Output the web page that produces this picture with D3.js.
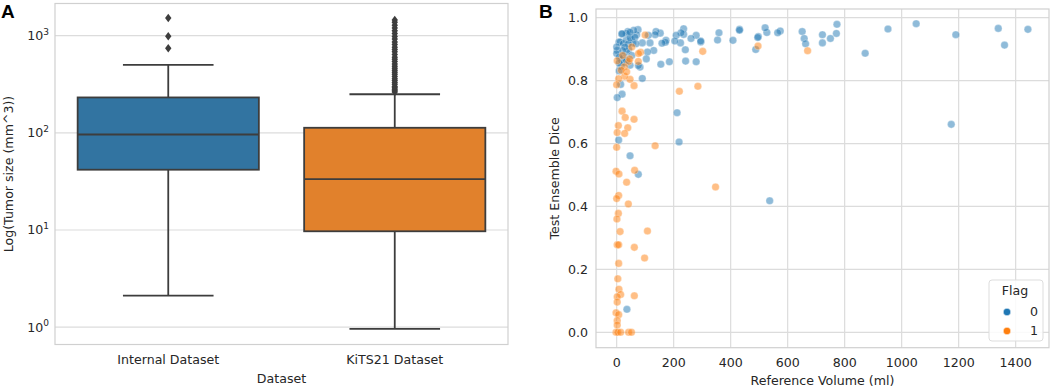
<!DOCTYPE html>
<html>
<head>
<meta charset="utf-8">
<script src="https://cdn.jsdelivr.net/npm/d3@7"></script>
<style>
  html, body { margin: 0; padding: 0; background: #fff; }
  svg { display: block; font-family: "DejaVu Sans", sans-serif; }
</style>
</head>
<body>
<svg id="chart" width="1053" height="391"></svg>
<script>
// ---------------- Panel A data ----------------
const boxCategories = ["Internal Dataset", "KiTS21 Dataset"];
const boxColors = ["#3274a1", "#e1812c"];
const boxLowerWhisker = [2.11, 0.96];
const boxQ1 = [41.7, 9.7];
const boxMedian = [96, 33.3];
const boxQ3 = [231, 112.6];
const boxUpperWhisker = [500, 249];
const internalOutliers = [740, 983, 1514];
const kitsOutliers = [262, 270, 280, 290, 300, 315, 330, 345, 360, 380, 400, 420, 440, 460, 485, 510, 540, 570, 600, 640, 680, 720, 760, 810, 860, 920, 980, 1050, 1120, 1200, 1280, 1370, 1450];
const logTicks = [1, 10, 100, 1000];

// ---------------- Panel B data ----------------
const flag0Volume = [1443,1361,1339,1190,1174,1051,952,872,773,771,750,722,722,651,658,663,574,565,527,521,537,497,495,488,431,431,408,359,354,295,295,279,279,261,241,242,235,235,226,224,209,204,212,219,185,173,171,155,159,153,138,135,130,117,111,108,104,90,90,82,76,75,70,60,52,56,76,47,36,39,34,18,42,35,26,16,15,9,8,2,0,14,19,2,7,12,23,33,41,47,64,68,29,9,21,53,19,47,27,47,9,0,35];
const flag0Dice = [0.963,0.913,0.966,0.946,0.661,0.981,0.964,0.887,0.979,0.950,0.934,0.946,0.920,0.956,0.934,0.917,0.958,0.952,0.953,0.968,0.418,0.940,0.937,0.899,0.963,0.960,0.928,0.952,0.929,0.923,0.926,0.944,0.860,0.934,0.898,0.862,0.965,0.947,0.952,0.920,0.944,0.926,0.698,0.605,0.860,0.928,0.922,0.852,0.919,0.951,0.956,0.946,0.896,0.920,0.944,0.891,0.869,0.807,0.920,0.843,0.848,0.962,0.946,0.960,0.932,0.920,0.502,0.561,0.073,0.956,0.950,0.948,0.899,0.893,0.877,0.867,0.846,0.831,0.923,0.896,0.886,0.788,0.757,0.746,0.611,0.923,0.917,0.928,0.917,0.936,0.938,0.917,0.907,0.875,0.896,0.880,0.949,0.954,0.858,0.849,0.856,0.907,0.864];
const flag1Volume = [670,496,347,302,285,220,135,108,98,100,84,76,61,61,63,62,62,47,42,46,28,7,0,2,19,30,6,39,2,28,0,-2,8,35,7,0,41,6,1,12,2,7,7,4,8,14,2,2,-2,7,2,2,-2,4,14,42,52,21,27,35,53,16,77];
const flag1Dice = [0.895,0.910,0.462,0.893,0.782,0.766,0.593,0.322,0.236,0.945,0.890,0.861,0.784,0.677,0.515,0.270,0.116,0.804,0.861,0.869,0.814,0.806,0.787,0.863,0.703,0.683,0.657,0.650,0.635,0.632,0.588,0.512,0.503,0.477,0.435,0.425,0.408,0.378,0.360,0.320,0.278,0.278,0.219,0.170,0.137,0.120,0.113,0.096,0.062,0.056,0.037,0.023,0,0,0,0,0,0.880,0.844,0.828,0.907,0.833,0.886];
const xTicksB = [0, 200, 400, 600, 800, 1000, 1200, 1400];
const yTicksB = [0.0, 0.2, 0.4, 0.6, 0.8, 1.0];
const flagLabels = ["0", "1"];
const flagColors = ["#1f77b4", "#ff7f0e"];

// ---------------- Drawing ----------------
const svg = d3.select("#chart");
const textColor = "#262626";
const gridColor = "#dcdcdc";
const frameColor = "#d0d0d0";
const lineColor = "#3d3d3d";
const fs = 12.6;
const lw = 1.8;

// ===== Panel A =====
const A = { left: 55, right: 508, top: 3.5, bottom: 344.5 };
const xA = d3.scaleBand().domain(boxCategories).range([A.left, A.right]).paddingInner(0).paddingOuter(0);
const yA = d3.scaleLog().domain([Math.pow(10, -0.178), Math.pow(10, 3.33)]).range([A.bottom, A.top]);

const gA = svg.append("g");
gA.selectAll("line.grid").data(logTicks).join("line")
  .attr("x1", A.left).attr("x2", A.right)
  .attr("y1", d => yA(d)).attr("y2", d => yA(d))
  .attr("stroke", gridColor).attr("stroke-width", 1.2);
gA.append("rect").attr("x", A.left).attr("y", A.top)
  .attr("width", A.right - A.left).attr("height", A.bottom - A.top)
  .attr("fill", "none").attr("stroke", frameColor).attr("stroke-width", 1.2);

const yTickA = gA.selectAll("text.ytick").data(logTicks).join("text")
  .attr("x", A.left - 6).attr("y", d => yA(d) + 4.5)
  .attr("text-anchor", "end").attr("fill", textColor).attr("font-size", fs);
yTickA.append("tspan").text("10");
yTickA.append("tspan").attr("dy", -5.5).attr("font-size", 9).text(d => String(Math.round(Math.log10(d))));

const bw = xA.bandwidth() * 0.8;
boxCategories.forEach((c, i) => {
  const cx = xA(c) + xA.bandwidth() / 2;
  const g = gA.append("g");
  g.append("line").attr("x1", cx).attr("x2", cx)
    .attr("y1", yA(boxQ3[i])).attr("y2", yA(boxUpperWhisker[i]))
    .attr("stroke", lineColor).attr("stroke-width", lw);
  g.append("line").attr("x1", cx).attr("x2", cx)
    .attr("y1", yA(boxQ1[i])).attr("y2", yA(boxLowerWhisker[i]))
    .attr("stroke", lineColor).attr("stroke-width", lw);
  [boxUpperWhisker[i], boxLowerWhisker[i]].forEach(v => {
    g.append("line").attr("x1", cx - bw / 4).attr("x2", cx + bw / 4)
      .attr("y1", yA(v)).attr("y2", yA(v))
      .attr("stroke", lineColor).attr("stroke-width", lw);
  });
  g.append("rect").attr("x", cx - bw / 2).attr("width", bw)
    .attr("y", yA(boxQ3[i])).attr("height", yA(boxQ1[i]) - yA(boxQ3[i]))
    .attr("fill", boxColors[i]).attr("stroke", lineColor).attr("stroke-width", lw);
  g.append("line").attr("x1", cx - bw / 2).attr("x2", cx + bw / 2)
    .attr("y1", yA(boxMedian[i])).attr("y2", yA(boxMedian[i]))
    .attr("stroke", lineColor).attr("stroke-width", lw);
  const outs = i === 0 ? internalOutliers : kitsOutliers;
  g.selectAll("path.out").data(outs).join("path")
    .attr("d", "M0,-4.2 L3.2,0 L0,4.2 L-3.2,0 Z")
    .attr("transform", d => `translate(${cx},${yA(d)})`)
    .attr("fill", lineColor);
});

gA.selectAll("text.xtick").data(boxCategories).join("text")
  .attr("x", d => xA(d) + xA.bandwidth() / 2).attr("y", 364)
  .attr("text-anchor", "middle").attr("fill", textColor).attr("font-size", fs)
  .text(d => d);
gA.append("text").attr("x", (A.left + A.right) / 2).attr("y", 383)
  .attr("text-anchor", "middle").attr("fill", textColor).attr("font-size", fs).text("Dataset");
gA.append("text").attr("transform", `translate(13,${(A.top + A.bottom) / 2}) rotate(-90)`)
  .attr("text-anchor", "middle").attr("fill", textColor).attr("font-size", fs)
  .text("Log(Tumor size (mm^3))");
svg.append("text").attr("x", 1).attr("y", 18).attr("font-size", 19).attr("font-weight", "bold")
  .attr("fill", "#000").attr("font-family", "Liberation Sans, Arial, sans-serif").text("A");

// ===== Panel B =====
const B = { left: 596, right: 1049, top: 9, bottom: 347.7 };
const xB = d3.scaleLinear().domain([-72.5, 1517]).range([B.left, B.right]);
const yB = d3.scaleLinear().domain([-0.049, 1.0277]).range([B.bottom, B.top]);
const gB = svg.append("g");

gB.selectAll("line.gx").data(xTicksB).join("line")
  .attr("x1", d => xB(d)).attr("x2", d => xB(d)).attr("y1", B.top).attr("y2", B.bottom)
  .attr("stroke", gridColor).attr("stroke-width", 1.2);
gB.selectAll("line.gy").data(yTicksB).join("line")
  .attr("y1", d => yB(d)).attr("y2", d => yB(d)).attr("x1", B.left).attr("x2", B.right)
  .attr("stroke", gridColor).attr("stroke-width", 1.2);
gB.append("rect").attr("x", B.left).attr("y", B.top)
  .attr("width", B.right - B.left).attr("height", B.bottom - B.top)
  .attr("fill", "none").attr("stroke", frameColor).attr("stroke-width", 1.2);

gB.selectAll("text.xt").data(xTicksB).join("text")
  .attr("x", d => xB(d)).attr("y", 367).attr("text-anchor", "middle")
  .attr("fill", textColor).attr("font-size", fs).text(d => d3.format("d")(d));
gB.selectAll("text.yt").data(yTicksB).join("text")
  .attr("x", B.left - 8).attr("y", d => yB(d) + 4.5).attr("text-anchor", "end")
  .attr("fill", textColor).attr("font-size", fs).text(d => d3.format(".1f")(d));

const ptsB = [];
flag0Volume.forEach((v, i) => ptsB.push({ x: v, y: flag0Dice[i], f: 0 }));
flag1Volume.forEach((v, i) => ptsB.push({ x: v, y: flag1Dice[i], f: 1 }));
gB.selectAll("circle.pt").data(ptsB).join("circle")
  .attr("cx", d => xB(d.x)).attr("cy", d => yB(d.y)).attr("r", 3.8)
  .attr("fill", d => flagColors[d.f]).attr("fill-opacity", 0.5)
  .attr("stroke", "#fff").attr("stroke-opacity", 0.5).attr("stroke-width", 0.6);

gB.append("text").attr("x", (B.left + B.right) / 2).attr("y", 385)
  .attr("text-anchor", "middle").attr("fill", textColor).attr("font-size", fs).text("Reference Volume (ml)");
gB.append("text").attr("transform", `translate(559,${(B.top + B.bottom) / 2}) rotate(-90)`)
  .attr("text-anchor", "middle").attr("fill", textColor).attr("font-size", fs).text("Test Ensemble Dice");
svg.append("text").attr("x", 539).attr("y", 18).attr("font-size", 19).attr("font-weight", "bold")
  .attr("fill", "#000").attr("font-family", "Liberation Sans, Arial, sans-serif").text("B");

const lg = gB.append("g");
lg.append("rect").attr("x", 989).attr("y", 280).attr("width", 54).attr("height", 61).attr("rx", 3)
  .attr("fill", "#fff").attr("fill-opacity", 0.85).attr("stroke", "#dddddd");
lg.append("text").attr("x", 1015).attr("y", 295).attr("text-anchor", "middle")
  .attr("fill", textColor).attr("font-size", fs).text("Flag");
flagLabels.forEach((l, i) => {
  lg.append("circle").attr("cx", 1007).attr("cy", 312 + i * 19).attr("r", 3.8)
    .attr("fill", flagColors[i]).attr("stroke", "#fff").attr("stroke-width", 0.6);
  lg.append("text").attr("x", 1038).attr("y", 316 + i * 19).attr("text-anchor", "end")
    .attr("fill", textColor).attr("font-size", fs).text(l);
});
</script>
</body>
</html>
